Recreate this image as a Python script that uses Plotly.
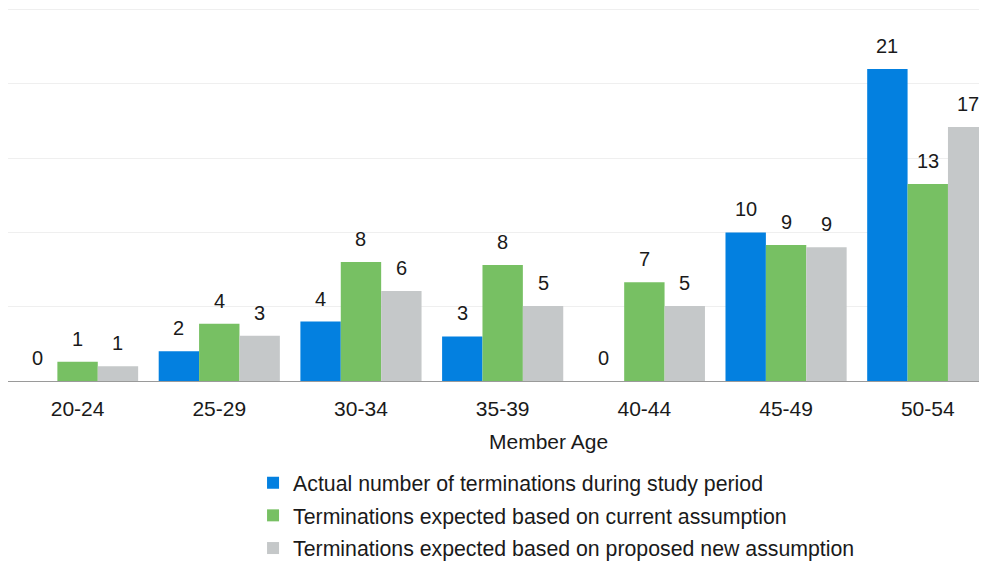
import plotly.graph_objects as go

categories = ["20-24", "25-29", "30-34", "35-39", "40-44", "45-49", "50-54"]
actual = [0, 2, 4, 3, 0, 10, 21]
current = [1.3, 3.85, 8.0, 7.8, 6.65, 9.15, 13.25]
proposed = [1.0, 3.05, 6.05, 5.05, 5.05, 9.0, 17.1]
series_names = [
    "Actual number of terminations during study period",
    "Terminations expected based on current assumption",
    "Terminations expected based on proposed new assumption",
]
colors = ["#0380E0", "#77C063", "#C5C8C9"]

FONT = "Liberation Sans, Arial, sans-serif"
FS = 21
# page body has an 8px margin, so the figure is sized to fit the window
W, H = 979, 555
ML, MR, MT, MB = 0, 0, 0, 182
BARGAP = 0.145
X_RANGE = [-0.491, 6.418]  # right-most bar is cut by the plot edge, as in the original

fig = go.Figure()
all_series = [actual, current, proposed]
for i, (name, vals, col) in enumerate(zip(series_names, all_series, colors)):
    fig.add_trace(go.Bar(
        x=categories, y=vals, name=name, marker_color=col,
        marker_line_width=0, legendgroup=f"g{i}",
    ))

plot_w = W - ML - MR
px_per_cat = plot_w / (X_RANGE[1] - X_RANGE[0])
bar_w = px_per_cat * (1 - BARGAP) / 3
for i, vals in enumerate(all_series):
    for c, v in zip(categories, vals):
        fig.add_annotation(
            x=c, y=v, text=str(int(round(v))), showarrow=False,
            xref="x", yref="y", xanchor="center", yanchor="bottom",
            xshift=(i - 1) * bar_w, yshift=10,
            font=dict(family=FONT, size=FS - 1, color="#1a1a1a"),
        )

fig.add_annotation(
    text="Member Age", xref="paper", yref="paper", x=0.5526, y=-0.1609,
    xanchor="center", yanchor="middle", showarrow=False,
    font=dict(family=FONT, size=FS, color="#1a1a1a"),
)

fig.update_layout(
    width=W, height=H,
    margin=dict(l=ML, r=MR, t=MT, b=MB, autoexpand=False),
    barmode="group", bargap=BARGAP, bargroupgap=0,
    plot_bgcolor="white", paper_bgcolor="white",
    font=dict(family=FONT, size=FS, color="#1a1a1a"),
    xaxis=dict(
        range=X_RANGE,
        showline=True, linecolor="#9a9a9a", linewidth=1,
        ticks="", ticklabelstandoff=9,
        tickfont=dict(size=FS),
    ),
    yaxis=dict(
        range=[0, 25.1], dtick=5, showticklabels=False,
        showgrid=True, gridcolor="#efefef", gridwidth=1,
        zeroline=False,
    ),
    legend=dict(
        orientation="v", x=0.2503, xanchor="left", y=-0.218, yanchor="top",
        font=dict(size=21.3), tracegroupgap=2, itemclick=False,
    ),
    showlegend=True,
)

fig.write_html("out.html")
